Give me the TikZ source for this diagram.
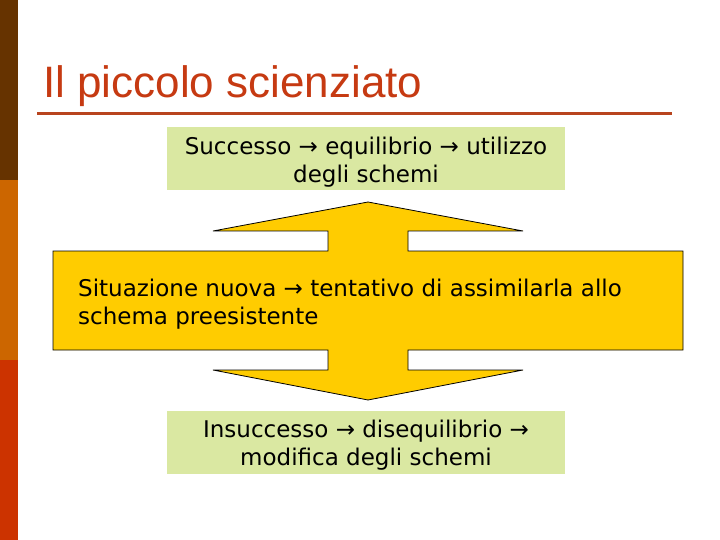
\documentclass[tikz,border=0pt]{standalone}
\usepackage{fontspec}
\setmainfont{DejaVu Sans}
\newfontfamily\titlefont{Liberation Sans}
\definecolor{barbrown}{HTML}{663300}
\definecolor{barorange}{HTML}{CC6600}
\definecolor{barred}{HTML}{CC3300}
\definecolor{titlered}{HTML}{C63A12}
\definecolor{rulered}{HTML}{B8441E}
\definecolor{palegreen}{HTML}{DAE8A2}
\definecolor{arrowyellow}{HTML}{FFCC00}

\begin{document}
\begin{tikzpicture}[x=1pt,y=-1pt,
	greenbox/.style={fill=palegreen, inner sep=0pt, align=center,
		minimum width=398pt, minimum height=63pt, text height=51.5pt,
		font=\fontsize{23}{28}\selectfont},
	bodytext/.style={inner sep=0pt, align=left, font=\fontsize{23}{28}\selectfont}]
	\useasboundingbox (0,0) rectangle (720,540);
	\fill[white] (0,0) rectangle (720,540);
	% side bar
	\fill[barbrown] (0,0) rectangle (18,180);
	\fill[barorange] (0,180) rectangle (18,360);
	\fill[barred] (0,360) rectangle (18,540);
	% title
	\node[anchor=base west, inner sep=0pt, text=titlered, font=\titlefont\fontsize{44}{50}\selectfont] (title) at (43,98) {Il piccolo scienziato};
	\draw[rulered, line width=3pt] (37,113.5) -- (672,113.5);
	% double arrow with the central block
	\draw[fill=arrowyellow, line width=0.8pt]
		(368,202) -- (523,231) -- (408,231) -- (408,251) -- (683,251) -- (683,350)
		-- (408,350) -- (408,370) -- (523,370) -- (368,400) -- (213,370) -- (328,370)
		-- (328,350) -- (53,350) -- (53,251) -- (328,251) -- (328,231) -- (213,231) -- cycle;
	\node[bodytext, anchor=base west] (situazione) at (78,324) {Situazione nuova → tentativo di assimilarla allo\\schema preesistente};
	% the two outcomes
	\node[greenbox] (successo) at (366,159) {Successo → equilibrio → utilizzo\\degli schemi};
	\node[greenbox] (insuccesso) at (366,442.5) {Insuccesso → disequilibrio →\\modifica degli schemi};
\end{tikzpicture}
\end{document}
